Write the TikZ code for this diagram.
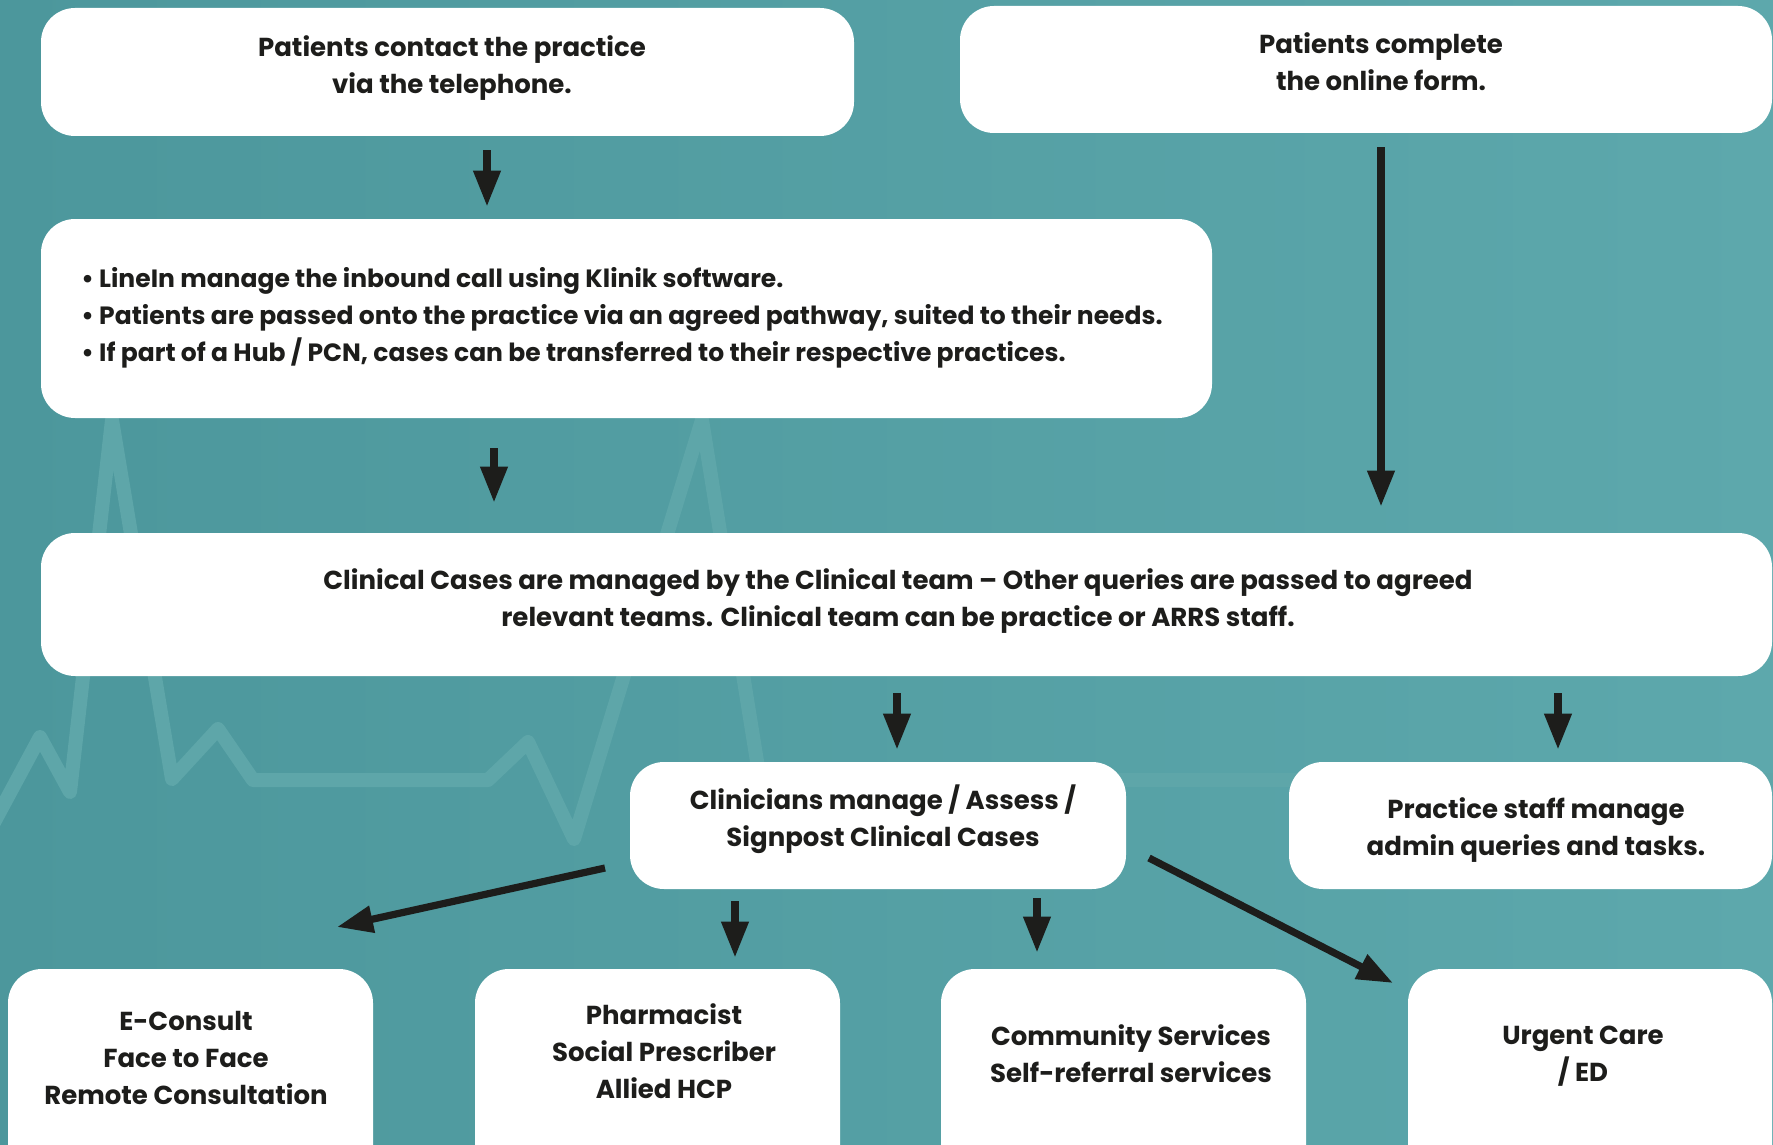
\documentclass[tikz,border=0pt]{standalone}
\usepackage{fontspec}
\setmainfont{Poppins}
\usetikzlibrary{arrows.meta,fit}
\definecolor{ink}{HTML}{1D1D1B}
\definecolor{bgA}{HTML}{4C979C}
\definecolor{bgB}{HTML}{5DA8AC}
\definecolor{ecg}{HTML}{5EA6A9}
\begin{document}
\begin{tikzpicture}[x=0.5pt,y=-0.5pt,
  box/.style={fill=white, rounded corners=17pt, inner sep=0pt, draw=none},
  txt/.style={font=\fontsize{13pt}{18.5pt}\selectfont\bfseries, text=ink, align=center, inner sep=0pt},
  bul/.style={font=\fontsize{12.5pt}{18.5pt}\selectfont\bfseries, text=ink, align=left, inner sep=0pt},
  arr/.style={draw=ink, line width=3.6pt, -{Triangle[length=18pt,width=13pt]}}]
\useasboundingbox (0,0) rectangle (1773,1145);
\clip (0,0) rectangle (1773,1145);
\shade[left color=bgA, right color=bgB] (0,0) rectangle (1773,1145);
% faint ECG trace in the background
\draw[ecg, line width=7pt, line join=round, line cap=round]
  (-10,830) -- (40,737) -- (70,792) -- (112,420) -- (172,779) -- (218,729) -- (253,780)
  -- (488,780) -- (528,742) -- (574,839) -- (702,420) -- (760,780) -- (1800,780);

% boxes
\node[box, fit={(41,8) (854,136)}] (b1) {};
\node[box, fit={(960,6) (1772,133)}] (b2) {};
\node[box, fit={(41,219) (1212,418)}] (b3) {};
\node[box, fit={(41,533) (1772,676)}] (b4) {};
\node[box, fit={(630,762) (1126,889)}] (b5) {};
\node[box, fit={(1289,762) (1772,889)}] (b6) {};
\node[box, fit={(8,969) (373,1190)}] (b7) {};
\node[box, fit={(475,969) (840,1190)}] (b8) {};
\node[box, fit={(941,969) (1306,1190)}] (b9) {};
\node[box, fit={(1408,969) (1772,1190)}] (b10) {};

% texts
\node[txt] (t1) at (452,68) {Patients contact the practice\\via the telephone.};
\node[txt] (t2) at (1381,62) {Patients complete\\the online form.};
\node[bul, anchor=west] (t3) at (81,318) {• LineIn manage the inbound call using Klinik software.\\• Patients are passed onto the practice via an agreed pathway, suited to their needs.\\• If part of a Hub / PCN, cases can be transferred to their respective practices.};
\node[txt] (t4) at (898,601.5) {Clinical Cases are managed by the Clinical team -- Other queries are passed to agreed\\relevant teams. Clinical team can be practice or ARRS staff.};
\node[txt] (t5) at (883,819.5) {Clinicians manage / Assess /\\Signpost Clinical Cases};
\node[txt] (t6) at (1536,830) {Practice staff manage\\admin queries and tasks.};
\node[txt] (t7) at (186,1057.5) {E-Consult\\Face to Face\\Remote Consultation};
\node[txt] (t8) at (664,1051.5) {Pharmacist\\Social Prescriber\\Allied HCP};
\node[txt] (t9) at (1131,1053.5) {Community Services\\Self-referral services};
\node[txt] (t10) at (1583,1056) {Urgent Care\\/ ED};

% connectors
\coordinate (x1) at (487,0);
\coordinate (x2) at (1381,0);
\coordinate (x3) at (494,0);
\coordinate (x4) at (897,0);
\coordinate (x5) at (1558,0);
\coordinate (x7) at (735,0);
\coordinate (x8) at (1037,0);
\coordinate (a6s) at (605,868);
\coordinate (a6e) at (337,927);
\coordinate (a9s) at (1149,858);
\coordinate (a9e) at (1393,983);
\draw[arr, shorten <=7pt, shorten >=6pt] (b1.south -| x1) -- (b3.north -| x1);
\draw[arr, shorten <=7pt, shorten >=13pt] (b2.south -| x2) -- (b4.north -| x2);
\draw[arr, shorten <=15pt, shorten >=15pt] (b3.south -| x3) -- (b4.north -| x3);
\draw[arr, shorten <=8.5pt, shorten >=6pt] (b4.south -| x4) -- (b5.north -| x4);
\draw[arr, shorten <=8.5pt, shorten >=6pt] (b4.south -| x5) -- (b6.north -| x5);
\draw[arr] (a6s) -- (a6e);
\draw[arr, shorten <=6pt, shorten >=5.5pt] (b5.south -| x7) -- (b8.north -| x7);
\draw[arr, shorten <=4.5pt, shorten >=8pt] (b5.south -| x8) -- (b9.north -| x8);
\draw[arr] (a9s) -- (a9e);
\end{tikzpicture}
\end{document}
